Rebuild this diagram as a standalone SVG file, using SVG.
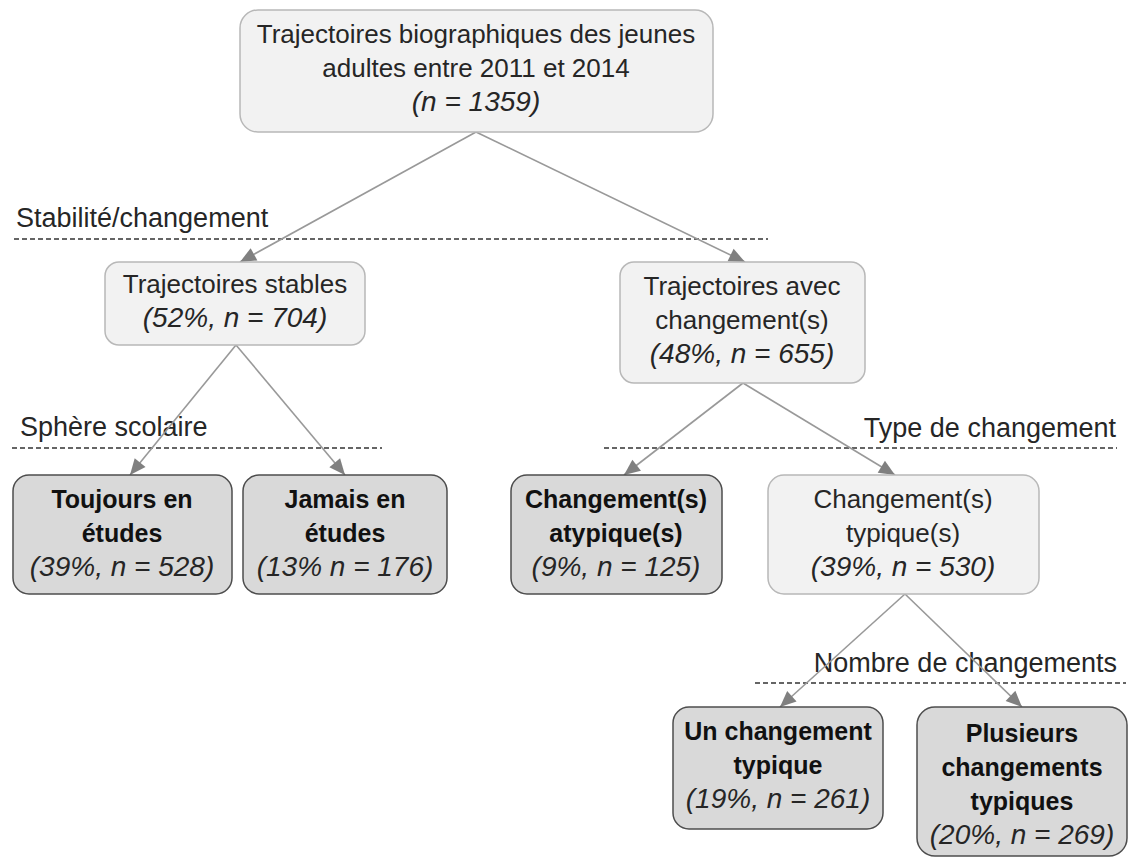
<svg xmlns="http://www.w3.org/2000/svg" width="1128" height="858" viewBox="0 0 1128 858">
<style>
.light{fill:#f2f2f2;stroke:#b8b8b8;stroke-width:1.5}
.dark{fill:#d9d9d9;stroke:#4d4d4d;stroke-width:1.5}
text{font-family:"Liberation Sans",Arial,sans-serif;font-size:26px;fill:#262626;text-anchor:middle}
.it{font-style:italic;font-size:28px}
.b{font-weight:bold;font-size:25px;fill:#111}
.lbl{text-anchor:start;font-size:27px}
.r{text-anchor:end;font-size:27px}
.dash{stroke:#333;stroke-width:1.3;stroke-dasharray:5,3;fill:none}
.edge{stroke:#999;stroke-width:1.6;fill:none}
</style>
<defs>
<marker id="arr" markerUnits="userSpaceOnUse" markerWidth="20" markerHeight="20" viewBox="0 0 20 20" refX="18" refY="10" orient="auto">
<path d="M2,3 L18,10 L2,17 Z" fill="#808080"/>
</marker>
</defs>
<rect width="1128" height="858" fill="#ffffff"/>
<g id="separators">
<line class="dash" x1="14" y1="239" x2="768" y2="239"/>
<text class="lbl" x="16" y="227">Stabilité/changement</text>
<line class="dash" x1="12" y1="448" x2="382" y2="448"/>
<text class="lbl" x="20" y="436">Sphère scolaire</text>
<line class="dash" x1="604" y1="448" x2="1117" y2="448"/>
<text class="r" x="1116" y="437">Type de changement</text>
<line class="dash" x1="755" y1="683" x2="1126" y2="683"/>
<text class="r" x="1117" y="672">Nombre de changements</text>
</g>
<g id="connectors">
<line class="edge" x1="476" y1="132" x2="240" y2="262" marker-end="url(#arr)"/>
<line class="edge" x1="476" y1="132" x2="745" y2="262" marker-end="url(#arr)"/>
<line class="edge" x1="236" y1="345" x2="130" y2="475" marker-end="url(#arr)"/>
<line class="edge" x1="236" y1="345" x2="345" y2="475" marker-end="url(#arr)"/>
<line class="edge" x1="743" y1="383" x2="624" y2="475" marker-end="url(#arr)"/>
<line class="edge" x1="743" y1="383" x2="895" y2="475" marker-end="url(#arr)"/>
<line class="edge" x1="905" y1="594" x2="780" y2="707" marker-end="url(#arr)"/>
<line class="edge" x1="905" y1="594" x2="1022" y2="707" marker-end="url(#arr)"/>
</g>
<g id="root">
<rect class="light" x="240" y="10" width="473" height="122" rx="18"/>
<text x="476" y="43">Trajectoires biographiques des jeunes</text>
<text x="476" y="77">adultes entre 2011 et 2014</text>
<text class="it" x="476" y="111">(n = 1359)</text>
</g>
<g id="stables">
<rect class="light" x="105" y="262" width="260" height="83" rx="14"/>
<text x="235" y="293">Trajectoires stables</text>
<text class="it" x="235" y="327">(52%, n = 704)</text>
</g>
<g id="avec">
<rect class="light" x="620" y="262" width="245" height="121" rx="14"/>
<text x="742" y="295">Trajectoires avec</text>
<text x="742" y="329">changement(s)</text>
<text class="it" x="742" y="363">(48%, n = 655)</text>
</g>
<g id="toujours">
<rect class="dark" x="13" y="475" width="219" height="119" rx="16"/>
<text class="b" x="122" y="508">Toujours en</text>
<text class="b" x="122" y="542">études</text>
<text class="it" x="122" y="576">(39%, n = 528)</text>
</g>
<g id="jamais">
<rect class="dark" x="243" y="475" width="204" height="119" rx="16"/>
<text class="b" x="345" y="508">Jamais en</text>
<text class="b" x="345" y="542">études</text>
<text class="it" x="345" y="576">(13% n = 176)</text>
</g>
<g id="atypique">
<rect class="dark" x="511" y="475" width="211" height="119" rx="16"/>
<text class="b" x="616" y="508">Changement(s)</text>
<text class="b" x="616" y="542">atypique(s)</text>
<text class="it" x="616" y="576">(9%, n = 125)</text>
</g>
<g id="typique">
<rect class="light" x="768" y="475" width="271" height="119" rx="16"/>
<text x="903" y="508">Changement(s)</text>
<text x="903" y="542">typique(s)</text>
<text class="it" x="903" y="576">(39%, n = 530)</text>
</g>
<g id="un">
<rect class="dark" x="673" y="707" width="210" height="122" rx="16"/>
<text class="b" x="778" y="740">Un changement</text>
<text class="b" x="778" y="774">typique</text>
<text class="it" x="778" y="808">(19%, n = 261)</text>
</g>
<g id="plusieurs">
<rect class="dark" x="917" y="707" width="210" height="149" rx="18"/>
<text class="b" x="1022" y="742">Plusieurs</text>
<text class="b" x="1022" y="776">changements</text>
<text class="b" x="1022" y="810">typiques</text>
<text class="it" x="1022" y="844">(20%, n = 269)</text>
</g>
</svg>
